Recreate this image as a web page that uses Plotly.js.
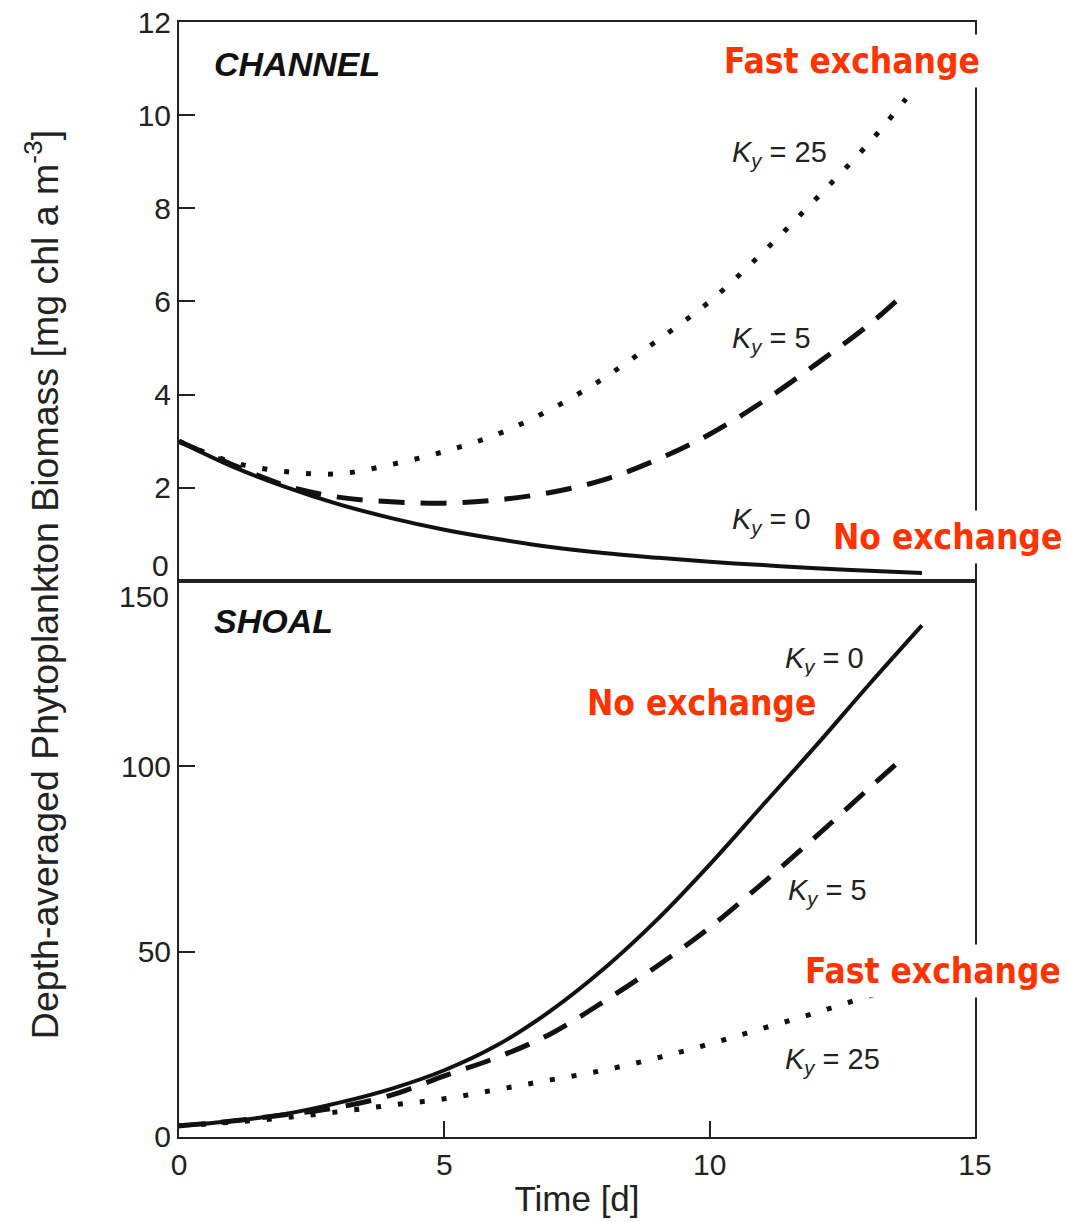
<!DOCTYPE html>
<html>
<head>
<meta charset="utf-8">
<script src="https://cdn.plot.ly/plotly-3.0.1.min.js"></script>
<style>
  html, body { margin: 0; padding: 0; background: #ffffff; }
  #chart { width: 1066px; height: 1222px; }
</style>
</head>
<body>
<div id="chart"></div>
<script>
// ---- Data ----
const daysFull = [0, 1, 2, 3, 4, 5, 6, 7, 8, 9, 10, 11, 12, 13, 14];
const daysEnd  = [0, 1, 2, 3, 4, 5, 6, 7, 8, 9, 10, 11, 12, 13, 13.7];

// CHANNEL panel [mg chl a m^-3]
const channelK0  = [3.0, 2.46, 2.02, 1.65, 1.35, 1.1, 0.9, 0.73, 0.6, 0.5, 0.41, 0.34, 0.27, 0.22, 0.17];
const channelK5  = [3.0, 2.5, 2.05, 1.8, 1.7, 1.67, 1.74, 1.9, 2.17, 2.6, 3.15, 3.85, 4.65, 5.5, 6.2];
const channelK25 = [3.0, 2.55, 2.35, 2.3, 2.5, 2.78, 3.15, 3.68, 4.35, 5.15, 6.0, 7.05, 8.2, 9.4, 10.35];

// SHOAL panel
const shoalK0  = [3, 4.3, 6.2, 9.2, 13, 18, 24.8, 34, 45.3, 58.5, 73.5, 89.5, 105.5, 122, 138];
const shoalK5  = [3, 4.3, 6.0, 8.0, 11.3, 16.5, 21.5, 27.8, 36.5, 46, 56.5, 68.5, 81, 94, 103];
const shoalK25 = [3, 4.0, 5.2, 6.8, 8.6, 10.3, 12.8, 15.4, 18, 21.3, 25.1, 29.3, 33.5, 38, 41];

const topTicks = [0, 2, 4, 6, 8, 10, 12];
const topTickText = ['', '2', '4', '6', '8', '10', '12'];
const botTicks = [0, 50, 100, 150];
const botTickText = ['0', '50', '100', ''];
const xTicks = [0, 5, 10, 15];

// ---- Styles ----
const INK = '#111111';
const FRAME = '#222222';
const RED = '#ff3300';
const solid = {color: INK, width: 4, dash: 'solid', shape: 'spline', smoothing: 1};
const dashed = {color: INK, width: 5, dash: '26px,16px', shape: 'spline', smoothing: 1};
const dotted = {color: INK, width: 5, dash: '5px,17px', shape: 'spline', smoothing: 1};

const traces = [
  {x: daysFull, y: channelK0,  xaxis: 'x',  yaxis: 'y',  line: solid,  name: 'Channel Ky=0'},
  {x: daysEnd,  y: channelK5,  xaxis: 'x',  yaxis: 'y',  line: dashed, name: 'Channel Ky=5'},
  {x: daysEnd,  y: channelK25, xaxis: 'x',  yaxis: 'y',  line: dotted, name: 'Channel Ky=25'},
  {x: daysFull, y: shoalK0,    xaxis: 'x2', yaxis: 'y2', line: solid,  name: 'Shoal Ky=0'},
  {x: daysEnd,  y: shoalK5,    xaxis: 'x2', yaxis: 'y2', line: dashed, name: 'Shoal Ky=5'},
  {x: daysEnd,  y: shoalK25,   xaxis: 'x2', yaxis: 'y2', line: dotted, name: 'Shoal Ky=25'}
].map(t => Object.assign({mode: 'lines', type: 'scatter', hoverinfo: 'skip'}, t));

const tickFont = {family: 'Liberation Sans, Arial, sans-serif', size: 30, color: '#222222'};
const kFont = {family: 'Liberation Sans, Arial, sans-serif', size: 29, color: '#222222'};
const redFont = {family: 'DejaVu Sans Condensed, DejaVu Sans, sans-serif', size: 35, color: RED, weight: 'bold', stretch: 'condensed'};
const panelFont = {family: 'Liberation Sans, Arial, sans-serif', size: 34, color: '#111111', weight: 'bold', style: 'italic'};

function kLabel(val, x, y, xref, yref) {
  return {text: '<i>K</i><sub><i>y</i></sub> = ' + val, x: x, y: y, xref: xref, yref: yref,
    xanchor: 'left', yanchor: 'middle', yshift: 6, showarrow: false, font: kFont};
}
function redLabel(text, x, y, xref, yref) {
  return {text: text, x: x, y: y, xref: xref, yref: yref, xanchor: 'center', yanchor: 'middle',
    showarrow: false, font: redFont, bgcolor: '#ffffff', borderpad: 6};
}

const splitFrac = 0.4987;

const layout = {
  width: 1066, height: 1222,
  margin: {l: 179, r: 91, t: 22, b: 85},
  paper_bgcolor: '#ffffff', plot_bgcolor: '#ffffff',
  showlegend: false,
  xaxis: {domain: [0, 1], anchor: 'y', range: [0, 15], showgrid: false, zeroline: false,
    showline: true, linecolor: FRAME, linewidth: 2, mirror: true,
    ticks: '', showticklabels: false},
  yaxis: {domain: [splitFrac, 1], anchor: 'x', range: [0, 12], showgrid: false, zeroline: false,
    showline: true, linecolor: FRAME, linewidth: 2, mirror: true,
    ticks: 'inside', ticklen: 16, tickwidth: 2, tickcolor: FRAME,
    tickvals: topTicks, ticktext: topTickText, tickfont: tickFont},
  xaxis2: {domain: [0, 1], anchor: 'y2', range: [0, 15], showgrid: false, zeroline: false,
    showline: true, linecolor: FRAME, linewidth: 2, mirror: true,
    ticks: 'inside', ticklen: 16, tickwidth: 2, tickcolor: FRAME,
    tickvals: xTicks, tickfont: tickFont,
    title: {text: 'Time [d]', font: {family: 'Liberation Sans, Arial, sans-serif', size: 35, color: '#222222'}, standoff: 6}},
  yaxis2: {domain: [0, splitFrac], anchor: 'x2', range: [0, 150], showgrid: false, zeroline: false,
    showline: true, linecolor: FRAME, linewidth: 2, mirror: true,
    ticks: 'inside', ticklen: 16, tickwidth: 2, tickcolor: FRAME,
    tickvals: botTicks, ticktext: botTickText, tickfont: tickFont},
  annotations: [
    // nudged axis labels at the shared boundary
    {text: '0', xref: 'paper', yref: 'y', x: 0, y: 0, xanchor: 'right', yanchor: 'middle', xshift: -8, yshift: 15, showarrow: false, font: tickFont},
    {text: '150', xref: 'paper', yref: 'y2', x: 0, y: 150, xanchor: 'right', yanchor: 'middle', xshift: -8, yshift: -16, showarrow: false, font: tickFont},
    // y-axis title
    {text: 'Depth-averaged Phytoplankton Biomass [mg chl a m<sup>-3</sup>]', xref: 'paper', yref: 'paper',
      x: -0.172, y: 0.495, xanchor: 'center', yanchor: 'middle', textangle: -90, showarrow: false,
      font: {family: 'Liberation Sans, Arial, sans-serif', size: 37.5, color: '#222222'}},
    // panel names
    {text: 'CHANNEL', xref: 'x', yref: 'y', x: 0.62, y: 11.1, xanchor: 'left', yanchor: 'middle', showarrow: false, font: panelFont},
    {text: 'SHOAL', xref: 'x2', yref: 'y2', x: 0.62, y: 139.2, xanchor: 'left', yanchor: 'middle', showarrow: false, font: panelFont},
    // K labels
    kLabel('25', 10.38, 9.03, 'x', 'y'),
    kLabel('5', 10.38, 5.05, 'x', 'y'),
    kLabel('0', 10.38, 1.16, 'x', 'y'),
    kLabel('0', 11.38, 127, 'x2', 'y2'),
    kLabel('5', 11.44, 64.4, 'x2', 'y2'),
    kLabel('25', 11.38, 19.0, 'x2', 'y2'),
    // red overlays
    redLabel('Fast exchange', 12.68, 11.16, 'x', 'y'),
    redLabel('No exchange', 14.48, 0.95, 'x', 'y'),
    redLabel('No exchange', 9.84, 117, 'x2', 'y2'),
    redLabel('Fast exchange', 14.2, 44.7, 'x2', 'y2')
  ]
};

Plotly.newPlot('chart', traces, layout, {staticPlot: true, displayModeBar: false});
</script>
</body>
</html>
